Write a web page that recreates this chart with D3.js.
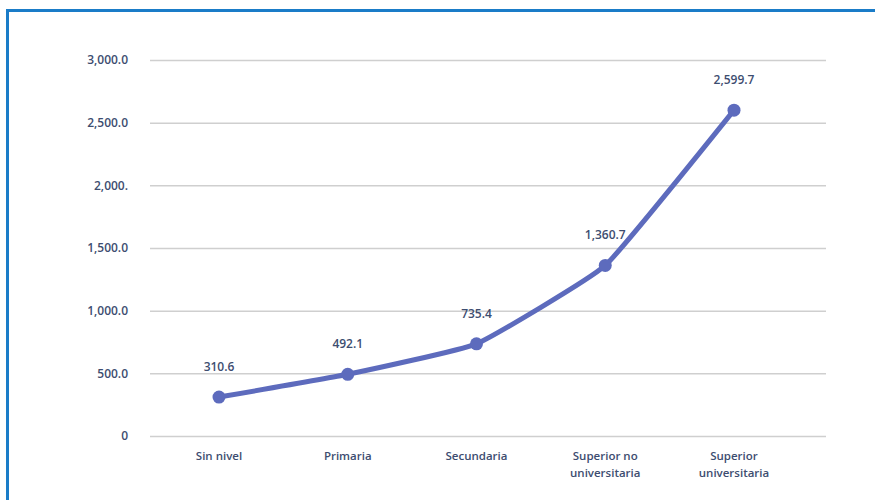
<!DOCTYPE html>
<html><head><meta charset="utf-8">
<script src="https://cdn.jsdelivr.net/npm/d3@7"></script>
<style>html,body{margin:0;padding:0;background:#fff;}svg{display:block;}</style>
</head><body>
<svg id="chart" width="875" height="500"></svg>
<script>
const categories = [["Sin nivel"], ["Primaria"], ["Secundaria"], ["Superior no", "universitaria"], ["Superior", "universitaria"]];
const values = [310.6, 492.1, 735.4, 1360.7, 2599.7];
const valueLabels = ["310.6", "492.1", "735.4", "1,360.7", "2,599.7"];
const yTicks = [0, 500, 1000, 1500, 2000, 2500, 3000];
const yTickLabels = ["0", "500.0", "1,000.0", "1,500.0", "2,000.", "2,500.0", "3,000.0"];

const svg = d3.select("#chart");
const font = "'Open Sans', sans-serif";
const textColor = "#3d4d70";
const lineColor = "#5d6bbd";

// frame
svg.append("rect").attr("x", 7.5).attr("y", 10.5).attr("width", 900).attr("height", 520)
  .attr("fill", "none").attr("stroke", "#1a7cc8").attr("stroke-width", 3);

const y = d3.scaleLinear().domain([0, 3000]).range([436, 60]);
const x = d3.scalePoint().domain(categories.map((d, i) => i)).range([219, 734]);

const g = svg.append("g").attr("transform", "translate(150,0)");
g.call(d3.axisLeft(y).tickValues(yTicks).tickSize(-676).tickPadding(22).tickFormat((d, i) => yTickLabels[i]));
g.select(".domain").remove();
g.selectAll(".tick line").attr("stroke", "#cfcfcf").attr("stroke-width", 1.5);
g.selectAll(".tick text").attr("fill", textColor).attr("font-family", font)
  .attr("font-size", 12).attr("font-weight", 600);

// x labels (one text per line)
const xl = svg.append("g");
categories.forEach((lines, i) => {
  lines.forEach((l, j) => {
    xl.append("text").attr("x", x(i)).attr("y", 460 + j * 16.5).attr("text-anchor", "middle")
      .attr("fill", textColor).attr("font-family", font).attr("font-size", 11.5).attr("font-weight", 600)
      .text(l);
  });
});

// line
const line = d3.line().x((d, i) => x(i)).y(d => y(d)).curve(d3.curveCardinal.tension(0.65));
svg.append("path").datum(values).attr("d", line).attr("fill", "none")
  .attr("stroke", lineColor).attr("stroke-width", 5).attr("stroke-linejoin", "round");

svg.selectAll("circle.pt").data(values).enter().append("circle").attr("class", "pt")
  .attr("cx", (d, i) => x(i)).attr("cy", d => y(d)).attr("r", 6.5).attr("fill", lineColor);

svg.selectAll("text.val").data(values).enter().append("text").attr("class", "val")
  .attr("x", (d, i) => x(i)).attr("y", d => y(d) - 26).attr("text-anchor", "middle")
  .attr("fill", textColor).attr("font-family", font).attr("font-size", 12).attr("font-weight", 600)
  .text((d, i) => valueLabels[i]);
</script>
</body></html>
